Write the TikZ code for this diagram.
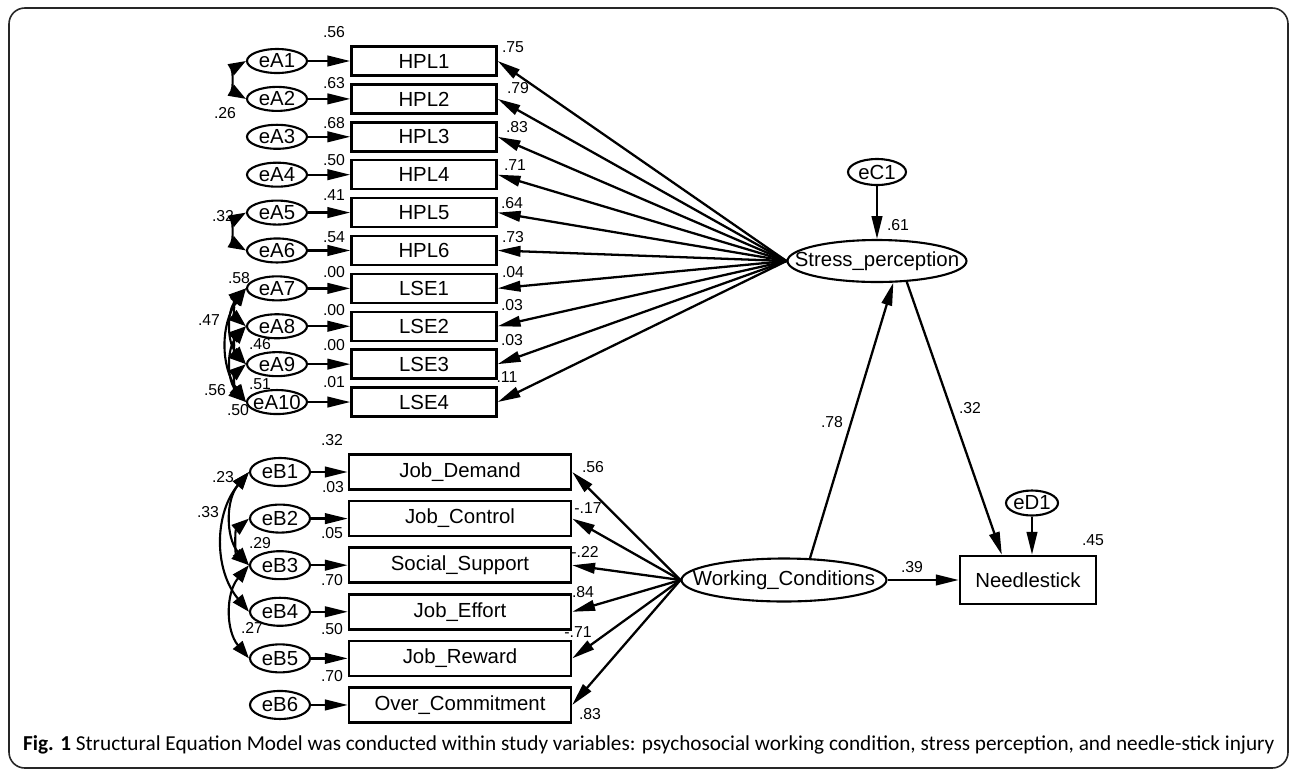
\documentclass[tikz,border=0pt]{standalone}
\usepackage{fontspec}
\setmainfont{Liberation Sans}
\newfontfamily\capfont{Carlito}
\usetikzlibrary{positioning, arrows.meta, shapes.geometric}
\tikzset{
    ->, % every connector is directed
    >={Triangle[length=13pt, width=6pt]}, % long filled heads as in AMOS
    every edge/.style={draw, line width=1.3pt}, % connectors
    node distance=0.758cm, % row pitch of the upper block
    obs/.style={draw, rectangle, line width=1.4pt, minimum width=2.9cm, minimum height=0.58cm, inner sep=0pt, font=\fontsize{11.6}{13}\selectfont}, % observed variable
    wide/.style={obs, minimum width=4.44cm, minimum height=0.7cm}, % observed variable of the lower block
    err/.style={draw, ellipse, line width=1.2pt, minimum width=1.2cm, minimum height=0.48cm, inner xsep=-6pt, inner ysep=0pt, font=\fontsize{11.6}{13}\selectfont}, % error term
    lat/.style={draw, ellipse, line width=1.2pt, inner xsep=-20pt, inner ysep=0pt, font=\fontsize{11.6}{13}\selectfont}, % latent variable
    val/.style={inner sep=0pt, font=\fontsize{9}{10}\selectfont}, % estimate
    cov/.style={<->, >={Triangle[length=10pt, width=7pt]}, line width=1.2pt}, % covariance
}

\begin{document}
\begin{tikzpicture}[x=0.02cm, y=-0.02cm, line width=1.3pt]
\useasboundingbox (0,0) rectangle (1292,772);
\draw[-, line width=0.9pt, draw=black!85, rounded corners=9pt] (9,8) rectangle (1288,768);

% upper block
\node[err] (eA1) at (277,61) {eA1};
\node[err, below of=eA1] (eA2) {eA2};
\node[err, below of=eA2] (eA3) {eA3};
\node[err, below of=eA3] (eA4) {eA4};
\node[err, below of=eA4] (eA5) {eA5};
\node[err, below of=eA5] (eA6) {eA6};
\node[err, below of=eA6] (eA7) {eA7};
\node[err, below of=eA7] (eA8) {eA8};
\node[err, below of=eA8] (eA9) {eA9};
\node[err, below of=eA9] (eA10) {eA10};

\node[obs] (HPL1) at (424,61) {HPL1};
\node[obs, below of=HPL1] (HPL2) {HPL2};
\node[obs, below of=HPL2] (HPL3) {HPL3};
\node[obs, below of=HPL3] (HPL4) {HPL4};
\node[obs, below of=HPL4] (HPL5) {HPL5};
\node[obs, below of=HPL5] (HPL6) {HPL6};
\node[obs, below of=HPL6] (LSE1) {LSE1};
\node[obs, below of=LSE1] (LSE2) {LSE2};
\node[obs, below of=LSE2] (LSE3) {LSE3};
\node[obs, below of=LSE3] (LSE4) {LSE4};

\node[lat, minimum width=3.58cm, minimum height=0.84cm] (SP) at (877,261) {Stress\_perception};
\node[err, minimum width=1.16cm, minimum height=0.52cm] (eC1) at (877,172) {eC1};

% lower block
\begin{scope}[node distance=0.932cm]
\node[err, minimum height=0.56cm] (eB1) at (280,472) {eB1};
\node[err, minimum height=0.56cm, below of=eB1] (eB2) {eB2};
\node[err, minimum height=0.56cm, below of=eB2] (eB3) {eB3};
\node[err, minimum height=0.56cm, below of=eB3] (eB4) {eB4};
\node[err, minimum height=0.56cm, below of=eB4] (eB5) {eB5};
\node[err, minimum height=0.56cm, below of=eB5] (eB6) {eB6};

\node[wide] (JD) at (460,472) {Job\_Demand};
\node[wide, below of=JD] (JC) {Job\_Control};
\node[wide, below of=JC] (SS) {Social\_Support};
\node[wide, below of=SS] (JE) {Job\_Effort};
\node[wide, below of=JE] (JR) {Job\_Reward};
\node[wide, below of=JR] (OC) {Over\_Commitment};
\end{scope}

\node[lat, minimum width=4.1cm, minimum height=0.86cm] (WC) at (784,580) {Working\_Conditions};
\node[obs, minimum width=2.72cm, minimum height=0.96cm, right of=WC, node distance=4.88cm] (NS) {Needlestick};
\node[err, minimum width=1.04cm, minimum height=0.5cm] (eD1) at (1032,503) {eD1};

\path
(eA1) edge (HPL1) (eA2) edge (HPL2) (eA3) edge (HPL3) (eA4) edge (HPL4) (eA5) edge (HPL5)
(eA6) edge (HPL6) (eA7) edge (LSE1) (eA8) edge (LSE2) (eA9) edge (LSE3) (eA10) edge (LSE4)
(SP.west) edge (HPL1.east) (SP.west) edge (HPL2.east) (SP.west) edge (HPL3.east)
(SP.west) edge (HPL4.east) (SP.west) edge (HPL5.east) (SP.west) edge (HPL6.east)
(SP.west) edge (LSE1.east) (SP.west) edge (LSE2.east) (SP.west) edge (LSE3.east)
(SP.west) edge (LSE4.east)
(eC1) edge (SP)
(eB1) edge (JD) (eB2) edge (JC) (eB3) edge (SS) (eB4) edge (JE) (eB5) edge (JR) (eB6) edge (OC)
(WC.west) edge (JD.east) (WC.west) edge (JC.east) (WC.west) edge (SS.east)
(WC.west) edge (JE.east) (WC.west) edge (JR.east) (WC.west) edge (OC.east)
(WC) edge (NS)
(WC.40) edge (SP.-53)
(SP.-35) edge (NS.136)
(eD1) edge (eD1 |- NS.north);

% covariances
\path
(eA1.west) edge[cov, bend right=60] (eA2.west)
(eA5.west) edge[cov, bend right=60] (eA6.west)
(eA7.west) edge[cov, bend right=50] (eA8.west)
(eA8.west) edge[cov, bend right=50] (eA9.west)
(eA9.west) edge[cov, bend right=50] (eA10.west)
(eA7.west) edge[cov, bend right=40] (eA9.west)
(eA8.west) edge[cov, bend right=40] (eA10.west)
(eA7.west) edge[cov, bend right=35] (eA10.west)
(eB1.west) edge[cov, bend right=40] (eB3.west)
(eB1.west) edge[cov, bend right=40] (eB4.west)
(eB2.west) edge[cov, bend right=50] (eB3.west)
(eB3.west) edge[cov, bend right=40] (eB5.west);

% estimates
\node[val] (r1) at (334,32) {.56};
\node[val] (r2) at (334,83) {.63};
\node[val] (r3) at (334,123) {.68};
\node[val] (r4) at (334,160) {.50};
\node[val] (r5) at (334,195) {.41};
\node[val] (r6) at (334,237) {.54};
\node[val] (r7) at (334,272) {.00};
\node[val] (r8) at (334,310) {.00};
\node[val] (r9) at (334,345) {.00};
\node[val] (r10) at (334,382) {.01};
\node[val] (l1) at (513,47) {.75};
\node[val] (l2) at (518,88) {.79};
\node[val] (l3) at (517,127) {.83};
\node[val] (l4) at (515,165) {.71};
\node[val] (l5) at (512,203) {.64};
\node[val] (l6) at (513,237) {.73};
\node[val] (l7) at (513,272) {.04};
\node[val] (l8) at (512,305) {.03};
\node[val] (l9) at (512,340) {.03};
\node[val] (l10) at (507,377) {.11};
\node[val] (c1) at (225,113) {.26};
\node[val] (c2) at (223,216) {.32};
\node[val] (c3) at (239,278) {.58};
\node[val] (c4) at (209,320) {.47};
\node[val] (c5) at (260,344) {.46};
\node[val] (c6) at (215,390) {.56};
\node[val] (c7) at (260,384) {.51};
\node[val] (c8) at (238,410) {.50};
\node[val] (s1) at (898,225) {.61};
\node[val] (s2) at (832,422) {.78};
\node[val] (s3) at (970,408) {.32};
\node[val] (s4) at (912,567) {.39};
\node[val] (s5) at (1093,540) {.45};
\node[val] (q1) at (332,440) {.32};
\node[val] (q2) at (333,487) {.03};
\node[val] (q3) at (332,533) {.05};
\node[val] (q4) at (332,580) {.70};
\node[val] (q5) at (332,629) {.50};
\node[val] (q6) at (332,676) {.70};
\node[val] (w1) at (593,467) {.56};
\node[val] (w2) at (588,508) {-.17};
\node[val] (w3) at (585,552) {-.22};
\node[val] (w4) at (583,592) {.84};
\node[val] (w5) at (578,632) {-.71};
\node[val] (w6) at (590,714) {.83};
\node[val] (d1) at (223,477) {.23};
\node[val] (d2) at (208,512) {.33};
\node[val] (d3) at (260,543) {.29};
\node[val] (d4) at (252,628) {.27};

\node[anchor=west, inner sep=0pt, font=\capfont\fontsize{12.1}{13}\selectfont] (cap) at (22,745) {\textbf{Fig. 1} Structural Equation Model was conducted within study variables: psychosocial working condition, stress perception, and needle-stick injury};
\end{tikzpicture}
\end{document}
